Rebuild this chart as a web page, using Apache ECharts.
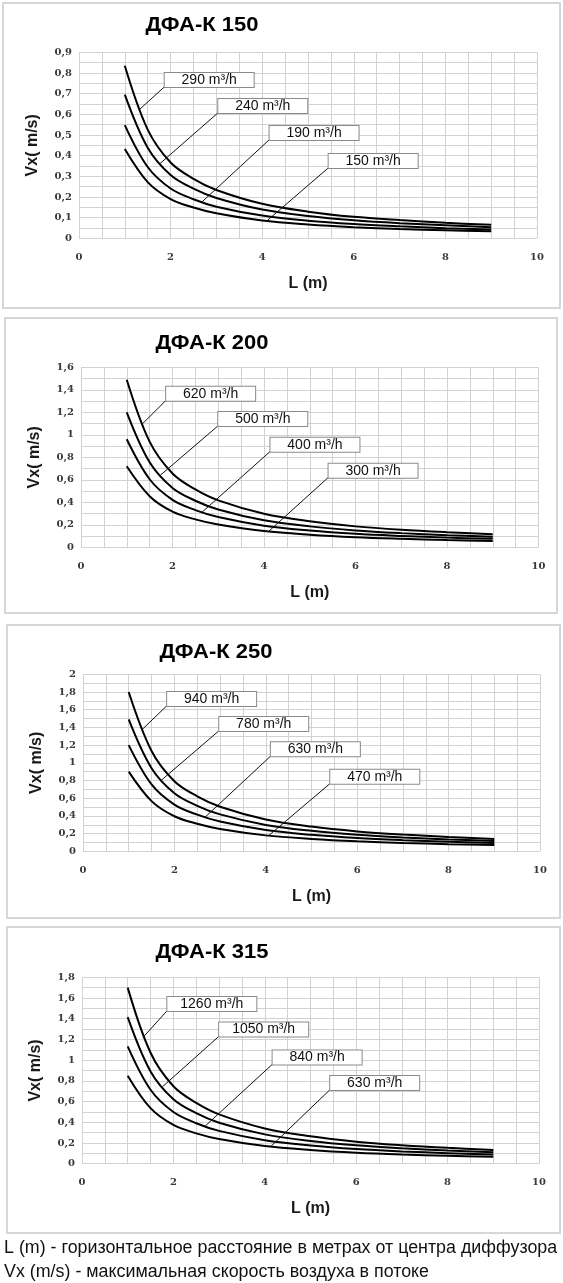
<!DOCTYPE html>
<html><head><meta charset="utf-8">
<script src="https://cdn.jsdelivr.net/npm/echarts@6/dist/echarts.min.js"></script>
<style>html,body{margin:0;padding:0;background:#fff}#c{width:563px;height:1283px}</style>
</head><body><div id="c"></div>
<script>
// ---- data ----
const L = [1, 1.5, 2, 2.5, 3, 4, 5, 6, 7, 8, 9];

const titles = ['ДФА-К 150', 'ДФА-К 200', 'ДФА-К 250', 'ДФА-К 315'];
const yMaxes = [0.9, 1.6, 2, 1.8];

const flows150 = ['290 m³/h', '240 m³/h', '190 m³/h', '150 m³/h'];
const v150_290 = [0.835, 0.526, 0.367, 0.288, 0.234, 0.167, 0.129, 0.104, 0.088, 0.075, 0.065];
const v150_240 = [0.695, 0.438, 0.306, 0.240, 0.195, 0.139, 0.108, 0.087, 0.073, 0.063, 0.054];
const v150_190 = [0.548, 0.345, 0.241, 0.189, 0.153, 0.110, 0.085, 0.069, 0.058, 0.049, 0.043];
const v150_150 = [0.432, 0.272, 0.190, 0.149, 0.121, 0.086, 0.067, 0.054, 0.045, 0.039, 0.034];

const flows200 = ['620 m³/h', '500 m³/h', '400 m³/h', '300 m³/h'];
const v200_620 = [1.49, 0.939, 0.656, 0.514, 0.417, 0.298, 0.231, 0.186, 0.156, 0.134, 0.116];
const v200_500 = [1.20, 0.756, 0.528, 0.414, 0.336, 0.240, 0.186, 0.150, 0.126, 0.108, 0.094];
const v200_400 = [0.96, 0.605, 0.422, 0.331, 0.269, 0.192, 0.149, 0.120, 0.101, 0.086, 0.075];
const v200_300 = [0.72, 0.454, 0.317, 0.248, 0.202, 0.144, 0.112, 0.090, 0.076, 0.065, 0.056];

const flows250 = ['940 m³/h', '780 m³/h', '630 m³/h', '470 m³/h'];
const v250_940 = [1.80, 1.134, 0.792, 0.621, 0.504, 0.360, 0.279, 0.225, 0.189, 0.162, 0.140];
const v250_780 = [1.49, 0.939, 0.656, 0.514, 0.417, 0.298, 0.231, 0.186, 0.156, 0.134, 0.116];
const v250_630 = [1.20, 0.756, 0.528, 0.414, 0.336, 0.240, 0.186, 0.150, 0.126, 0.108, 0.094];
const v250_470 = [0.90, 0.567, 0.396, 0.311, 0.252, 0.180, 0.140, 0.113, 0.095, 0.081, 0.070];

const flows315 = ['1260 m³/h', '1050 m³/h', '840 m³/h', '630 m³/h'];
const v315_1260 = [1.70, 1.071, 0.748, 0.587, 0.476, 0.340, 0.264, 0.213, 0.179, 0.153, 0.133];
const v315_1050 = [1.415, 0.891, 0.623, 0.488, 0.396, 0.283, 0.219, 0.177, 0.149, 0.127, 0.110];
const v315_840 = [1.133, 0.714, 0.499, 0.391, 0.317, 0.227, 0.176, 0.142, 0.119, 0.102, 0.088];
const v315_630 = [0.85, 0.536, 0.374, 0.293, 0.238, 0.170, 0.132, 0.106, 0.089, 0.077, 0.066];

const footnote1 = 'L (m) - горизонтальное расстояние в метрах от центра диффузора';
const footnote2 = 'Vx (m/s) - максимальная скорость воздуха в потоке';
const xName = 'L (m)';
const yName = 'Vx( m/s)';

// ---- layout (positions/styles) ----
const panelData = [
  [v150_290, v150_240, v150_190, v150_150],
  [v200_620, v200_500, v200_400, v200_300],
  [v250_940, v250_780, v250_630, v250_470],
  [v315_1260, v315_1050, v315_840, v315_630]
];
const panelFlows = [flows150, flows200, flows250, flows315];
const grids = [
  {left: 79, top: 52.3, width: 458, height: 186},
  {left: 81, top: 367.3, width: 457.5, height: 180},
  {left: 83, top: 674.3, width: 457, height: 177},
  {left: 82, top: 977.3, width: 457, height: 186.4}
];
const boxes = [
  [3, 3, 557, 305], [5, 318, 552, 295], [7, 625, 553, 293], [7, 927, 553, 306]
];
const titlePos = [[202, 25], [212, 343], [216, 652], [212, 952]];
// leader lines: [fromX, fromY (box corner), toX, toY (on curve)] in data units
const leaders = [
  [[1.86, 0.732, 1.33, 0.625], [3.03, 0.606, 1.77, 0.362], [4.15, 0.476, 2.69, 0.177], [5.44, 0.34, 4.1, 0.084]],
  [[1.85, 1.303, 1.325, 1.09], [2.99, 1.078, 1.733, 0.64], [4.13, 0.85, 2.64, 0.31], [5.4, 0.619, 4.1, 0.141]],
  [[1.83, 1.642, 1.282, 1.37], [2.97, 1.36, 1.707, 0.80], [4.1, 1.073, 2.67, 0.385], [5.4, 0.763, 4.06, 0.176]],
  [[1.856, 1.474, 1.335, 1.22], [2.99, 1.228, 1.753, 0.74], [4.16, 0.958, 2.70, 0.365], [5.42, 0.712, 4.135, 0.168]]
];

const GRID_COLOR = '#d2d2d2';
const tickFont = {fontFamily: 'DejaVu Serif', fontWeight: 'bold', fontSize: 10, color: '#3a3a3a'};
const nameFont = {fontFamily: 'Liberation Sans', fontWeight: 'bold', fontSize: 16, color: '#1a1a1a'};

const option = {
  animation: false,
  backgroundColor: '#fff',
  grid: grids.map(g => Object.assign({show: false}, g)),
  xAxis: [], yAxis: [], series: [], graphic: []
};

function near(v, step) { return Math.abs(v / step - Math.round(v / step)) < 1e-6; }

for (let p = 0; p < 4; p++) {
  const yStep = p === 0 ? 0.1 : 0.2;
  option.xAxis.push({
    type: 'value', gridIndex: p, min: 0, max: 10, interval: 0.5,
    axisLine: {show: false}, axisTick: {show: false},
    splitLine: {show: true, lineStyle: {color: GRID_COLOR, width: 1}},
    axisLabel: Object.assign({margin: 14, formatter: v => near(v, 2) ? String(Math.round(v)) : ''}, tickFont),
    name: xName, nameLocation: 'middle', nameGap: 37, nameTextStyle: nameFont
  });
  option.yAxis.push({
    type: 'value', gridIndex: p, min: 0, max: yMaxes[p], interval: yStep / 2,
    axisLine: {show: false}, axisTick: {show: false},
    splitLine: {show: true, lineStyle: {color: GRID_COLOR, width: 1}},
    axisLabel: Object.assign({margin: 7, formatter: v => near(v, yStep) ? String(+v.toFixed(2)).replace('.', ',') : ''}, tickFont),
    name: yName, nameLocation: 'middle', nameGap: 38, nameRotate: 90, nameTextStyle: nameFont
  });
  panelData[p].forEach((vals, i) => {
    option.series.push({
      type: 'line', xAxisIndex: p, yAxisIndex: p, name: panelFlows[p][i],
      data: L.map((x, k) => [x, vals[k]]),
      smooth: 0.35, symbol: 'none', silent: true,
      lineStyle: {color: '#000', width: 2}
    });
  });
  leaders[p].forEach((ld, i) => {
    option.series.push({
      type: 'line', xAxisIndex: p, yAxisIndex: p,
      data: [[ld[2], ld[3]], [ld[0], ld[1]]],
      symbol: 'none', silent: true, z: 3,
      lineStyle: {color: '#111', width: 1},
      markPoint: {
        silent: true, z: 4,
        data: [{coord: [ld[0], ld[1]], symbol: 'rect', symbolSize: [1, 1], symbolOffset: [45, -7],
          itemStyle: {color: 'rgba(0,0,0,0)'},
          label: {show: true, position: 'inside', formatter: panelFlows[p][i], color: '#111',
            fontFamily: 'Liberation Sans', fontSize: 14,
            backgroundColor: '#fff', borderColor: '#8a8a8a', borderWidth: 1,
            width: 89, height: 14, lineHeight: 15, align: 'center', verticalAlign: 'middle',
            padding: [0, 0, 0, 0]}}]
      }
    });
  });
  const b = boxes[p];
  option.graphic.push({type: 'rect', shape: {x: b[0], y: b[1], width: b[2], height: b[3]},
    style: {fill: null, stroke: '#d6d6d6', lineWidth: 2}, z: 0, silent: true});
  option.graphic.push({type: 'text', x: titlePos[p][0], y: titlePos[p][1], scaleX: 1.1,
    style: {text: titles[p], fill: '#000', font: 'bold 20px "Liberation Sans"', align: 'center', verticalAlign: 'middle'}, z: 10});
}
option.graphic.push({type: 'text', x: 4, y: 1248, scaleX: 1.02,
  style: {text: footnote1, fill: '#111', font: '17.5px "Liberation Sans"', align: 'left', verticalAlign: 'middle'}});
option.graphic.push({type: 'text', x: 4, y: 1272, scaleX: 1.02,
  style: {text: footnote2, fill: '#111', font: '17.5px "Liberation Sans"', align: 'left', verticalAlign: 'middle'}});

const chart = echarts.init(document.getElementById('c'), null, {renderer: 'canvas'});
chart.setOption(option);
</script></body></html>
